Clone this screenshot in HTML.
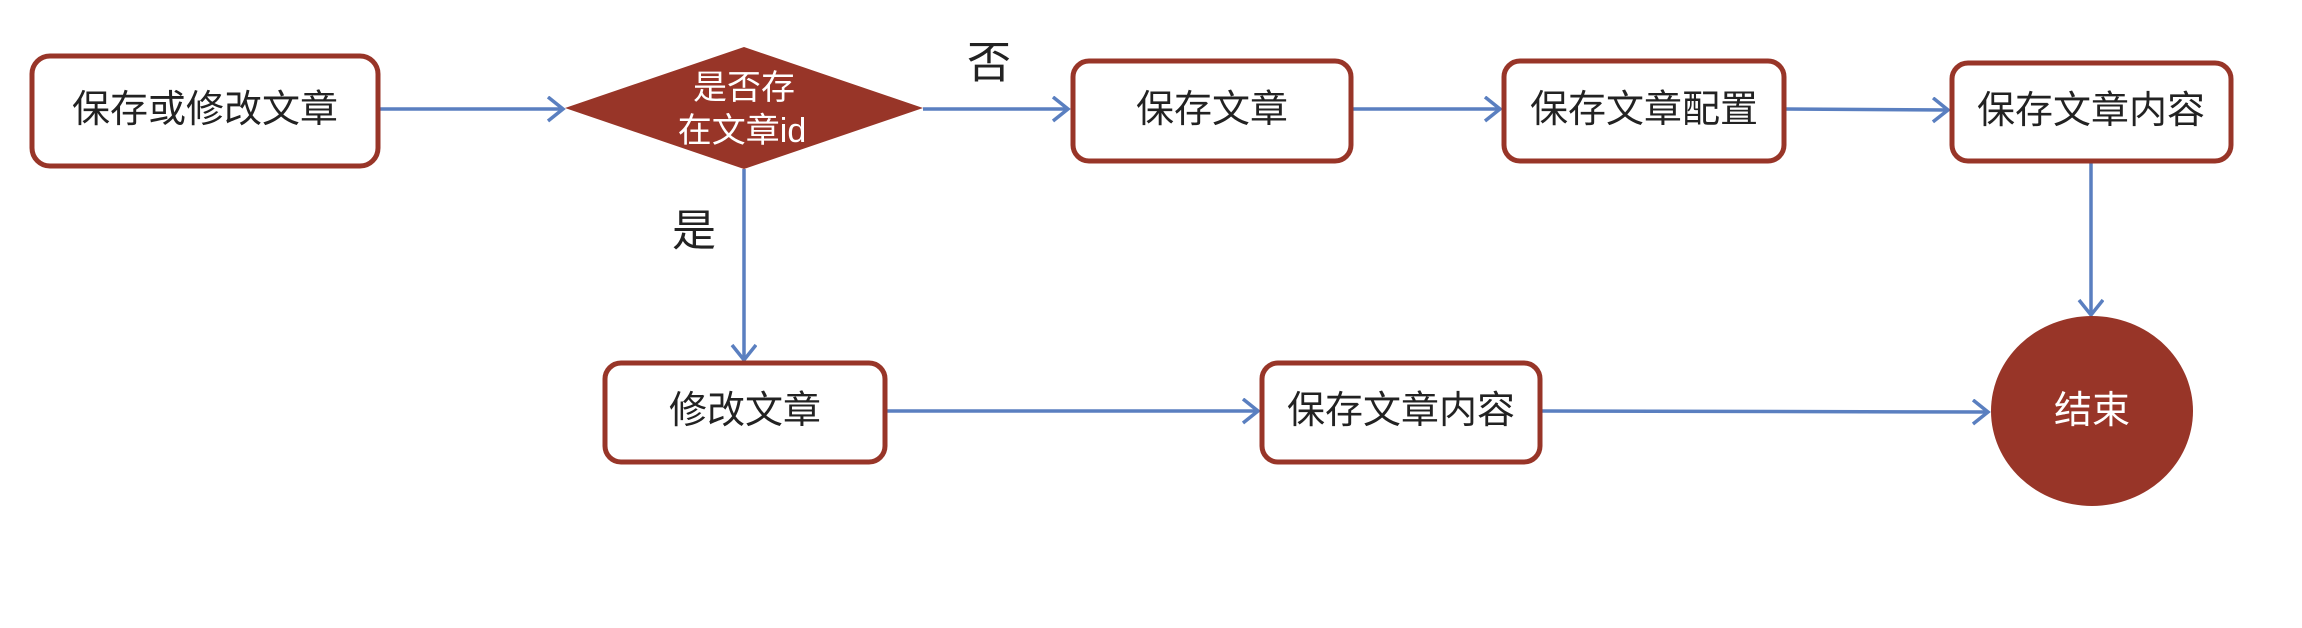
<!DOCTYPE html>
<html><head><meta charset="utf-8"><style>
html,body{margin:0;padding:0;background:#fff;}
svg{display:block;}
text{font-family:"Liberation Sans","Noto Sans CJK SC",sans-serif;}
</style></head><body>
<svg width="2302" height="628" viewBox="0 0 2302 628" xmlns="http://www.w3.org/2000/svg">
<defs>
<marker id="a" markerWidth="24" markerHeight="30" refX="18" refY="13" orient="auto" markerUnits="userSpaceOnUse">
<path d="M3,1 L18,13 L3,25" fill="none" stroke="#5a7fc0" stroke-width="3.5"/>
</marker>
</defs>
<g stroke="#5a7fc0" stroke-width="3.5" fill="none" marker-end="url(#a)">
<line x1="378" y1="109" x2="563" y2="109"/>
<line x1="923" y1="109" x2="1068" y2="109"/>
<line x1="1351" y1="109" x2="1500" y2="109"/>
<line x1="1784" y1="109" x2="1948" y2="110"/>
<line x1="744" y1="169" x2="744" y2="360"/>
<line x1="2091" y1="162" x2="2091" y2="315"/>
<line x1="885" y1="411" x2="1258" y2="411"/>
<line x1="1540" y1="411" x2="1988" y2="412"/>
</g>
<g fill="#fff" stroke="#983528" stroke-width="5">
<rect x="32" y="56" width="346" height="110" rx="18"/>
<rect x="1073" y="61" width="278" height="100" rx="16"/>
<rect x="1504" y="61" width="280" height="100" rx="16"/>
<rect x="1952" y="63" width="279" height="98" rx="16"/>
<rect x="605" y="363" width="280" height="99" rx="16"/>
<rect x="1262" y="363" width="278" height="99" rx="16"/>
</g>
<polygon points="565,108 744,47 923,108 744,169" fill="#983528"/>
<ellipse cx="2092" cy="411" rx="101" ry="95" fill="#983528"/>
<g font-size="38" fill="#222" text-anchor="middle" dominant-baseline="central">
<text x="205" y="110">保存或修改文章</text>
<text x="1212" y="110">保存文章</text>
<text x="1644" y="110">保存文章配置</text>
<text x="2091" y="111">保存文章内容</text>
<text x="745" y="411">修改文章</text>
<text x="1401" y="411">保存文章内容</text>
<text x="989" y="63" font-size="44">否</text>
<text x="694" y="231" font-size="44">是</text>
</g>
<g font-size="34" fill="#fff" text-anchor="middle" dominant-baseline="central">
<text x="744" y="88">是否存</text>
<text x="742" y="131">在文章id</text>
<text x="2092" y="411" font-size="38">结束</text>
</g>
</svg>
</body></html>
